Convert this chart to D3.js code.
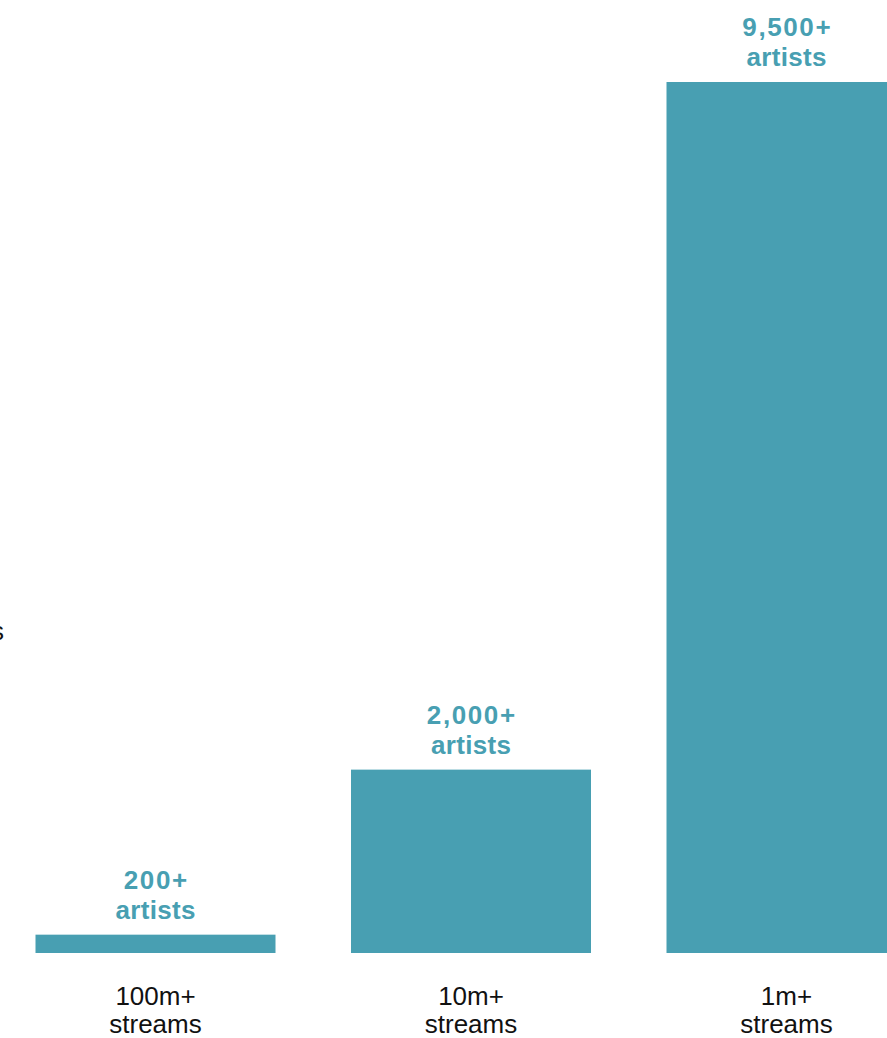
<!DOCTYPE html>
<html><head><meta charset="utf-8">
<script src="https://cdn.jsdelivr.net/npm/d3@7"></script>
<style>html,body{margin:0;padding:0;background:#fff;overflow:hidden}</style>
</head><body>
<svg id="chart" width="887" height="1038"></svg>
<script>
const categories = ["100m+|streams", "10m+|streams", "1m+|streams"];
const values = [200, 2000, 9500];
const valueLabels = ["200+|artists", "2,000+|artists", "9,500+|artists"];
const axisTitle = "Number of artists";

const svg = d3.select("#chart");
const teal = "#489fb2";
const font = "'Liberation Sans', Arial, Helvetica, sans-serif";

const x = d3.scaleBand().domain(categories).range([35.5, 906.5]).paddingInner(0.2393).paddingOuter(0);
const y = d3.scaleLinear().domain([0, 9500]).range([953, 82]);

svg.selectAll("rect.bar").data(values).join("rect")
  .attr("class", "bar")
  .attr("x", (d, i) => x(categories[i]))
  .attr("width", x.bandwidth())
  .attr("y", d => y(d))
  .attr("height", d => y(0) - y(d))
  .attr("fill", teal);

// value labels
const vl = svg.selectAll("text.val").data(values).join("text")
  .attr("class", "val")
  .attr("text-anchor", "middle")
  .attr("font-family", font)
  .attr("font-weight", "bold")
  .attr("font-size", 26)
  .attr("fill", teal);
vl.each(function(d, i) {
  const lines = valueLabels[i].split("|");
  const t = d3.select(this);
  const cx = x(categories[i]) + x.bandwidth() / 2;
  const base = y(d) - 16;
  lines.forEach((l, j) => {
    const ls = j === 0 ? 1.6 : 0.3;
    t.append("tspan").attr("x", cx + ls / 2)
      .attr("y", base - (lines.length - 1 - j) * 30)
      .attr("letter-spacing", ls)
      .text(l);
  });
});

// category labels (axis)
const xAxis = d3.axisBottom(x).tickSize(0).tickPadding(0).tickFormat("");
const g = svg.append("g").attr("transform", `translate(0,${y(0)})`).call(xAxis);
g.select(".domain").remove();
g.selectAll(".tick").each(function(d) {
  const lines = d.split("|");
  const t = d3.select(this).append("text")
    .attr("text-anchor", "middle")
    .attr("font-family", font)
    .attr("font-size", 26)
    .attr("fill", "#111");
  lines.forEach((l, j) => t.append("tspan").attr("x", 0).attr("y", 52 + j * 28).text(l));
});

// y-axis title (mostly cropped off left edge)
svg.append("text")
  .attr("x", 4).attr("y", 640)
  .attr("text-anchor", "end")
  .attr("font-family", font)
  .attr("font-size", 26)
  .attr("fill", "#111")
  .text(axisTitle);
</script>
</body></html>
